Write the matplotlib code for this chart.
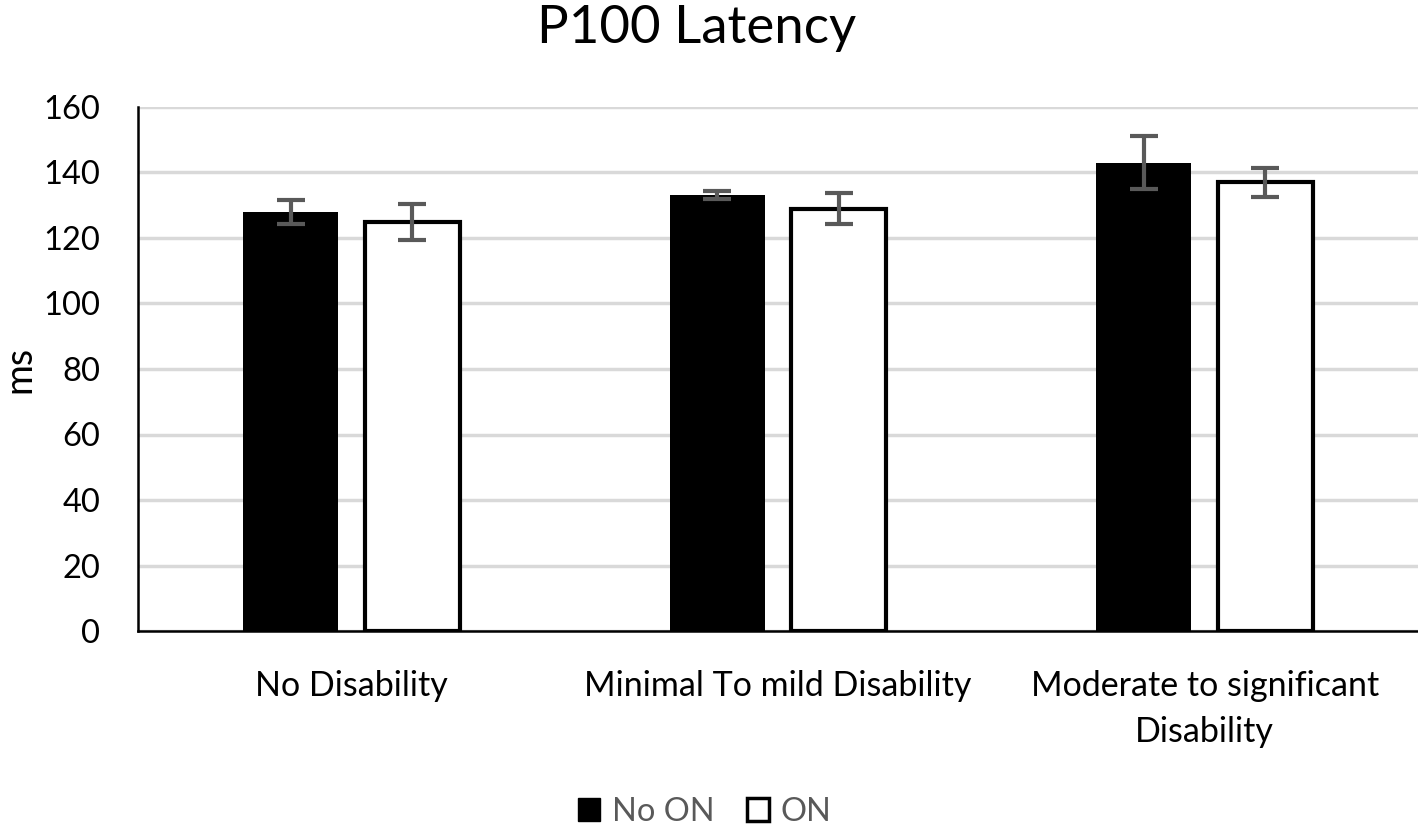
import matplotlib.pyplot as plt
import matplotlib.patches as mpatches
import numpy as np

plt.rcParams['font.family'] = ['Lato', 'DejaVu Sans']

categories = ["No Disability", "Minimal To mild Disability", "Moderate to significant\nDisability"]
no_on = [128, 133, 143]
no_on_err = [3.7, 1.2, 8.1]
on = [125, 129, 137]
on_err = [5.5, 4.7, 4.4]

fig = plt.figure(figsize=(14.18, 8.26), dpi=100)
ax = fig.add_axes([138/1418, 1-631/826, 1-138/1418, (631-107)/826])

x = np.arange(len(categories))
w = 0.223
off = 0.1425
ax.bar(x-off, no_on, w, color="black", zorder=3)
ax.bar(x+off, on, w, color="white", edgecolor="black", linewidth=3, zorder=3)
ax.errorbar(x-off, no_on, yerr=no_on_err, fmt="none", ecolor="#595959", elinewidth=3, capsize=10, capthick=3, zorder=4)
ax.errorbar(x+off, on, yerr=on_err, fmt="none", ecolor="#595959", elinewidth=3, capsize=10, capthick=3, zorder=4)

ax.set_xlim(-0.5, 2.5)
ax.set_ylim(0, 160)
ax.set_yticks(range(0, 161, 20))
ax.set_xticks(x)
ax.set_xticklabels(categories, fontsize=24.5, linespacing=1.55)
ax.tick_params(axis="y", labelsize=23.5, length=0, pad=27)
ax.tick_params(axis="x", length=0, pad=28)
ax.grid(axis="y", color="#d9d9d9", linewidth=2.5, zorder=0)
ax.set_axisbelow(True)
for s in ["top", "right"]:
    ax.spines[s].set_visible(False)
ax.spines["left"].set_linewidth(1.8)
ax.spines["bottom"].set_linewidth(1.8)
ax.set_ylabel("ms", fontsize=27)
ax.yaxis.set_label_coords(-0.079, 0.5)

fig.text(0.491, 0.966, "P100 Latency", fontsize=38, ha="center", va="center")

handles = [mpatches.Patch(facecolor="black", edgecolor="black", label="No ON"),
           mpatches.Patch(facecolor="white", edgecolor="black", linewidth=2.5, label="ON")]
leg = fig.legend(handles=handles, loc="center", bbox_to_anchor=(0.497, 0.017), ncol=2, frameon=False,
                 fontsize=23.5, handlelength=0.68, handleheight=0.68, handletextpad=0.35, columnspacing=1.0)
for t in leg.get_texts():
    t.set_color("#595959")

fig.savefig("out.png", dpi=100)
